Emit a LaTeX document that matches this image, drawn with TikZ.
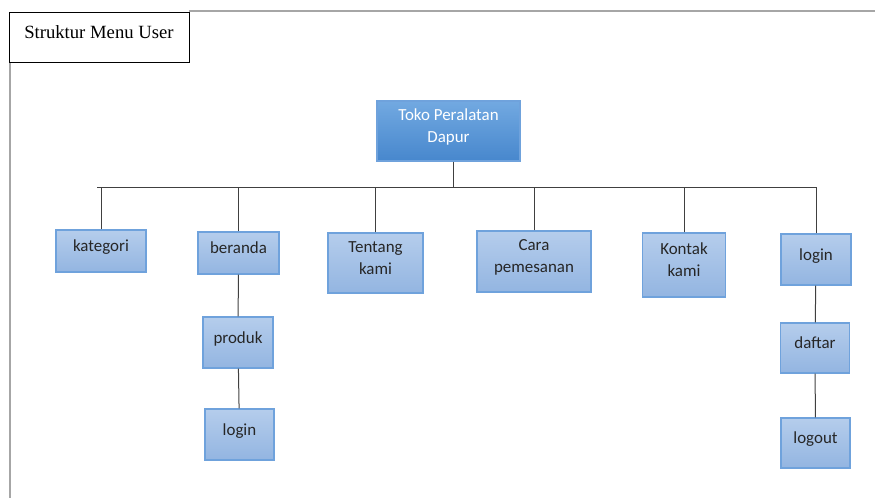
\documentclass[tikz,border=0pt]{standalone}
\usepackage{fontspec}
\setmainfont{Carlito}
\newfontfamily\titlefont{Liberation Serif}
\definecolor{boxtop}{HTML}{B5CDEC}
\definecolor{boxbot}{HTML}{93B5E1}
\definecolor{boxline}{HTML}{6FA2DC}
\definecolor{roottop}{HTML}{72A9E1}
\definecolor{rootbot}{HTML}{4787CD}
\tikzset{
  menu/.style={draw=boxline, line width=0.8pt, top color=boxtop, bottom color=boxbot,
    align=center, font=\fontsize{12.7}{16.5}\selectfont, text=black!85, inner sep=0pt},
  link/.style={draw=black!75, line width=0.75pt}
}
\begin{document}
\begin{tikzpicture}[x=0.75pt, y=-0.75pt]
                    \useasboundingbox (0,0) rectangle (875,498);
                    % page edges
                    \draw[black!35, line width=0.8pt] (189,11) -- (875,11);
                    \draw[black!35, line width=0.8pt] (10,62) -- (10,498);
                    \node[draw, line width=0.6pt, minimum width=180*0.75pt, minimum height=50*0.75pt, inner sep=0pt]
                        (judul) at (99,37) {};
                    \node[font=\titlefont\fontsize{14}{16}\selectfont, anchor=west, inner sep=0pt] (judultxt) at (24,32) {Struktur Menu User};
                    % menu utama
                    \node[menu, top color=roottop, bottom color=rootbot, text=white,
                        minimum width=143*0.75pt, minimum height=60*0.75pt] (toko) at (448.5,131) {Toko Peralatan\\Dapur\\[-8pt]};
                    \coordinate (busL) at (97,188);
                    \coordinate (busR) at (817,188);
                    \coordinate (busM) at (453,188);
                    \node[menu, minimum width=90*0.75pt, minimum height=42*0.75pt] (kategori) at (101,251) {kategori\\[-9pt]};
                    \node[menu, minimum width=81*0.75pt, minimum height=42*0.75pt] (beranda) at (238.5,253) {beranda\\[-9pt]};
                    \node[menu, minimum width=70*0.75pt, minimum height=51*0.75pt] (produk) at (238,342.5) {produk\\[-9pt]};
                    \node[menu, minimum width=69*0.75pt, minimum height=51*0.75pt] (loginB) at (239.5,434.5) {login\\[-9pt]};
                    \node[menu, minimum width=95*0.75pt, minimum height=60*0.75pt] (tentang) at (375.5,263) {Tentang\\kami\\[-9pt]};
                    \node[menu, minimum width=114*0.75pt, minimum height=61*0.75pt] (cara) at (534,261.5) {Cara\\pemesanan\\[-9pt]};
                    \node[menu, minimum width=83*0.75pt, minimum height=64*0.75pt] (kontak) at (684,265) {Kontak\\kami\\[-9pt]};
                    \node[menu, minimum width=70*0.75pt, minimum height=51*0.75pt] (login) at (816,259.5) {login\\[-9pt]};
                    \node[menu, minimum width=69*0.75pt, minimum height=50*0.75pt] (daftar) at (815,348) {daftar\\[-9pt]};
                    \node[menu, minimum width=69*0.75pt, minimum height=50*0.75pt] (logout) at (815.5,443) {logout\\[-9pt]};
                    % garis penghubung
                    \draw[link] (busL) -- (busR);
                    \draw[link] (toko.south -| busM) -- (busM);
                    \foreach \m in {kategori, beranda, tentang, cara, kontak, login}
                        \draw[link] (\m.north) -- (\m.north |- busL);
                    \draw[link] (beranda) -- (produk);
                    \draw[link] (produk) -- (loginB);
                    \draw[link] (login) -- (daftar);
                    \draw[link] (daftar) -- (logout);
                \end{tikzpicture}
\end{document}
